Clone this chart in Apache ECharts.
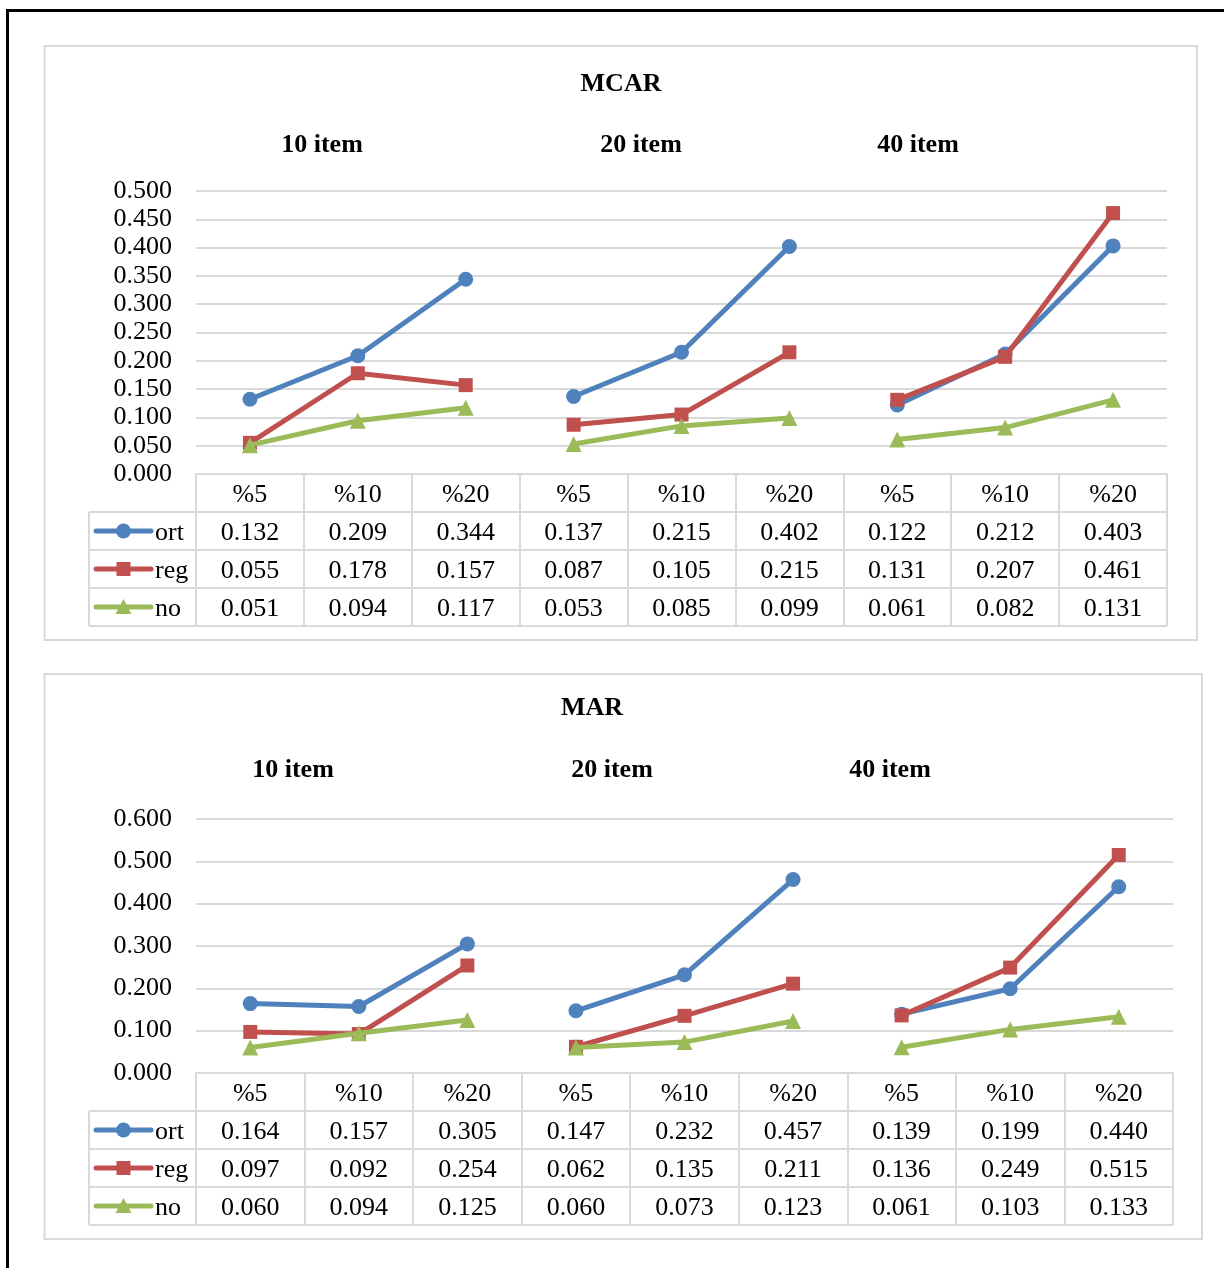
<!DOCTYPE html>
<html>
<head>
<meta charset="utf-8">
<script src="https://cdn.jsdelivr.net/npm/echarts@6/dist/echarts.min.js"></script>
<style>
  html, body { margin: 0; padding: 0; background: #ffffff; }
  #chart { width: 1224px; height: 1268px; }
</style>
</head>
<body>
<div id="chart"></div>
<script>
// ---- data ----
const categories = ['%5', '%10', '%20', '%5', '%10', '%20', '%5', '%10', '%20'];
const groupNames = ['10 item', '20 item', '40 item'];
const seriesNames = ['ort', 'reg', 'no'];

const mcarOrt = [0.132, 0.209, 0.344, 0.137, 0.215, 0.402, 0.122, 0.212, 0.403];
const mcarReg = [0.055, 0.178, 0.157, 0.087, 0.105, 0.215, 0.131, 0.207, 0.461];
const mcarNo  = [0.051, 0.094, 0.117, 0.053, 0.085, 0.099, 0.061, 0.082, 0.131];

const marOrt = [0.164, 0.157, 0.305, 0.147, 0.232, 0.457, 0.139, 0.199, 0.440];
const marReg = [0.097, 0.092, 0.254, 0.062, 0.135, 0.211, 0.136, 0.249, 0.515];
const marNo  = [0.060, 0.094, 0.125, 0.060, 0.073, 0.123, 0.061, 0.103, 0.133];

const mcarAxis = { min: 0, max: 0.5, interval: 0.05 };
const marAxis  = { min: 0, max: 0.6, interval: 0.1 };

// ---- styling ----
const FONT = "'Liberation Serif', 'Times New Roman', serif";
const FS = 26;
const GRID_GRAY = '#d9d9d9';
const colors = ['#4f81bd', '#c0504d', '#9bbb59'];
const symbols = ['circle', 'rect', 'triangle'];
const symbolSizes = [15, 14, 16];
const ROW_H = 38;
const TEXT_NUDGE = 2;   // serif glyphs sit slightly low in their boxes

// panel layout
const panels = [
  {
    title: 'MCAR', values: [mcarOrt, mcarReg, mcarNo], axis: mcarAxis,
    frame: [44.5, 46, 1197, 640],
    titlePos: [621, 82], subY: 143, subX: [322, 641, 918],
    plot: { left: 196, right: 1167, top: 191, bottom: 474 },
    legendLeft: 89
  },
  {
    title: 'MAR', values: [marOrt, marReg, marNo], axis: marAxis,
    frame: [44.5, 674, 1202, 1239],
    titlePos: [592, 706], subY: 768, subX: [293, 612, 890],
    plot: { left: 196, right: 1173, top: 819, bottom: 1073 },
    legendLeft: 89
  }
];

const grids = [], xAxes = [], yAxes = [], series = [], graphics = [];

// outer black frame (open to the right and bottom edges)
graphics.push({
  type: 'rect', silent: true,
  shape: { x: 7.5, y: 10.5, width: 1400, height: 1400 },
  style: { fill: 'none', stroke: '#000', lineWidth: 3 }
});

panels.forEach((p, pi) => {
  const pl = p.plot;
  grids.push({
    left: pl.left, top: pl.top,
    width: pl.right - pl.left, height: pl.bottom - pl.top,
    containLabel: false, outerBoundsMode: 'none'
  });

  // value axis
  yAxes.push({
    gridIndex: pi, type: 'value',
    min: p.axis.min, max: p.axis.max, interval: p.axis.interval,
    axisLine: { show: false }, axisTick: { show: false },
    axisLabel: {
      margin: 24, color: '#000', fontFamily: FONT, fontSize: FS,
      padding: [TEXT_NUDGE * 2, 0, 0, 0],
      formatter: v => v.toFixed(3)
    },
    splitLine: { lineStyle: { color: GRID_GRAY, width: 2 } }
  });

  // category axis: header row of the data table + its column dividers
  const mainX = xAxes.length;
  xAxes.push({
    gridIndex: pi, type: 'category', data: categories, boundaryGap: true,
    position: 'bottom',
    axisLine: { show: true, lineStyle: { color: GRID_GRAY, width: 2 } },
    axisTick: { show: true, interval: 0, inside: false, length: ROW_H * 4,
                lineStyle: { color: GRID_GRAY, width: 2 } },
    axisLabel: { interval: 0, margin: TEXT_NUDGE, lineHeight: ROW_H, color: '#000',
                 fontFamily: FONT, fontSize: FS },
    splitLine: { show: false }
  });

  // value rows of the data table
  p.values.forEach((vals, k) => {
    xAxes.push({
      gridIndex: pi, type: 'category', data: categories, boundaryGap: true,
      position: 'bottom', offset: ROW_H * (k + 1),
      axisLine: { show: false }, axisTick: { show: false },
      axisLabel: { interval: 0, margin: TEXT_NUDGE, lineHeight: ROW_H, color: '#000',
                   fontFamily: FONT, fontSize: FS,
                   formatter: (v, i) => vals[i].toFixed(3) },
      splitLine: { show: false }
    });
  });

  // lines, broken between item groups
  p.values.forEach((vals, m) => {
    groupNames.forEach((g, gi) => {
      series.push({
        name: seriesNames[m], type: 'line',
        xAxisIndex: mainX, yAxisIndex: pi,
        data: vals.map((v, i) => (Math.floor(i / 3) === gi ? v : null)),
        connectNulls: false,
        symbol: symbols[m], symbolSize: symbolSizes[m],
        itemStyle: { color: colors[m] },
        lineStyle: { color: colors[m], width: 5, cap: 'round', join: 'round' },
        z: 2 + m, silent: true
      });
    });
  });

  // chart area frame
  const f = p.frame;
  graphics.push({
    type: 'rect', silent: true,
    shape: { x: f[0], y: f[1], width: f[2] - f[0], height: f[3] - f[1] },
    style: { fill: 'none', stroke: GRID_GRAY, lineWidth: 2 }
  });

  // titles
  graphics.push({
    type: 'text', silent: true, x: p.titlePos[0], y: p.titlePos[1] + TEXT_NUDGE,
    style: { text: p.title, fill: '#000', align: 'center', verticalAlign: 'middle',
             font: 'bold ' + FS + 'px ' + FONT }
  });
  groupNames.forEach((g, gi) => {
    graphics.push({
      type: 'text', silent: true, x: p.subX[gi], y: p.subY + TEXT_NUDGE,
      style: { text: g, fill: '#000', align: 'center', verticalAlign: 'middle',
               font: 'bold ' + FS + 'px ' + FONT }
    });
  });

  // table: horizontal rules and legend column
  for (let r = 1; r <= 4; r++) {
    const y = pl.bottom + ROW_H * r;
    graphics.push({
      type: 'line', silent: true,
      shape: { x1: p.legendLeft, y1: y, x2: pl.right, y2: y },
      style: { stroke: GRID_GRAY, lineWidth: 2 }
    });
  }
  graphics.push({
    type: 'line', silent: true,
    shape: { x1: p.legendLeft, y1: pl.bottom + ROW_H, x2: p.legendLeft, y2: pl.bottom + ROW_H * 4 },
    style: { stroke: GRID_GRAY, lineWidth: 2 }
  });

  // legend keys inside the table
  seriesNames.forEach((name, m) => {
    const cy = pl.bottom + ROW_H * (m + 1) + ROW_H / 2;
    const x1 = 96, x2 = 151, cx = (x1 + x2) / 2;
    graphics.push({
      type: 'line', silent: true,
      shape: { x1: x1, y1: cy, x2: x2, y2: cy },
      style: { stroke: colors[m], lineWidth: 5, lineCap: 'round' }
    });
    if (m === 0) {
      graphics.push({ type: 'circle', silent: true, shape: { cx: cx, cy: cy, r: 7.5 },
                      style: { fill: colors[m] } });
    } else if (m === 1) {
      graphics.push({ type: 'rect', silent: true, shape: { x: cx - 7, y: cy - 7, width: 14, height: 14 },
                      style: { fill: colors[m] } });
    } else {
      graphics.push({ type: 'polygon', silent: true,
                      shape: { points: [[cx, cy - 8], [cx + 8, cy + 7], [cx - 8, cy + 7]] },
                      style: { fill: colors[m] } });
    }
    graphics.push({
      type: 'text', silent: true, x: 155, y: cy + TEXT_NUDGE,
      style: { text: name, fill: '#000', align: 'left', verticalAlign: 'middle',
               font: FS + 'px ' + FONT }
    });
  });
});

const chart = echarts.init(document.getElementById('chart'), null, { renderer: 'canvas' });
chart.setOption({
  backgroundColor: '#ffffff',
  animation: false,
  grid: grids,
  xAxis: xAxes,
  yAxis: yAxes,
  series: series,
  graphic: graphics
});
</script>
</body>
</html>
